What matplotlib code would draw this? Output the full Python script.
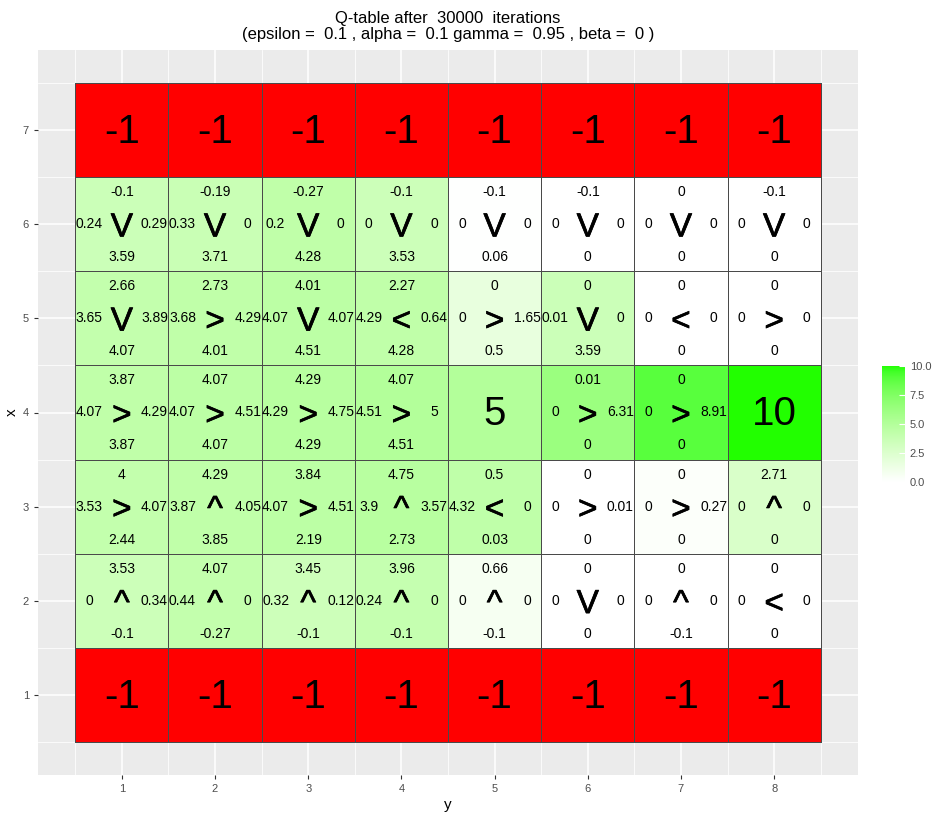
import numpy as np
import matplotlib
matplotlib.use("Agg")
import matplotlib.pyplot as plt
import matplotlib.patheffects as pe
from matplotlib.colors import ListedColormap

plt.rcParams['font.family'] = ['Liberation Sans', 'DejaVu Sans']

n_iter = 30000
epsilon, alpha, gamma, beta = 0.1, 0.1, 0.95, 0

cols = [1, 2, 3, 4, 5, 6, 7, 8]
rows = [1, 2, 3, 4, 5, 6, 7]
nan = np.nan

# terminal rewards (nan = ordinary state), rows from x=1 (bottom) to x=7 (top)
terminal = [
    [-1, -1, -1, -1, -1, -1, -1, -1],
    [nan] * 8,
    [nan] * 8,
    [nan, nan, nan, nan, 5, nan, nan, 10],
    [nan] * 8,
    [nan] * 8,
    [-1, -1, -1, -1, -1, -1, -1, -1],
]

q_up = [
    [nan] * 8,
    [3.53, 4.07, 3.45, 3.96, 0.66, 0, 0, 0],
    [4, 4.29, 3.84, 4.75, 0.5, 0, 0, 2.71],
    [3.87, 4.07, 4.29, 4.07, nan, 0.01, 0, nan],
    [2.66, 2.73, 4.01, 2.27, 0, 0, 0, 0],
    [-0.1, -0.19, -0.27, -0.1, -0.1, -0.1, 0, -0.1],
    [nan] * 8,
]
q_left = [
    [nan] * 8,
    [0, 0.44, 0.32, 0.24, 0, 0, 0, 0],
    [3.53, 3.87, 4.07, 3.9, 4.32, 0, 0, 0],
    [4.07, 4.07, 4.29, 4.51, nan, 0, 0, nan],
    [3.65, 3.68, 4.07, 4.29, 0, 0.01, 0, 0],
    [0.24, 0.33, 0.2, 0, 0, 0, 0, 0],
    [nan] * 8,
]
q_right = [
    [nan] * 8,
    [0.34, 0, 0.12, 0, 0, 0, 0, 0],
    [4.07, 4.05, 4.51, 3.57, 0, 0.01, 0.27, 0],
    [4.29, 4.51, 4.75, 5, nan, 6.31, 8.91, nan],
    [3.89, 4.29, 4.07, 0.64, 1.65, 0, 0, 0],
    [0.29, 0, 0, 0, 0, 0, 0, 0],
    [nan] * 8,
]
q_down = [
    [nan] * 8,
    [-0.1, -0.27, -0.1, -0.1, -0.1, 0, -0.1, 0],
    [2.44, 3.85, 2.19, 2.73, 0.03, 0, 0, 0],
    [3.87, 4.07, 4.29, 4.51, nan, 0, 0, nan],
    [4.07, 4.01, 4.51, 4.28, 0.5, 3.59, 0, 0],
    [3.59, 3.71, 4.28, 3.53, 0.06, 0, 0, 0],
    [nan] * 8,
]
policy = [
    [""] * 8,
    ["^", "^", "^", "^", "^", "V", "^", "<"],
    [">", "^", ">", "^", "<", ">", ">", "^"],
    [">", ">", ">", ">", "", ">", ">", ""],
    ["V", ">", "V", "<", ">", "V", "<", ">"],
    ["V", "V", "V", "V", "V", "V", "V", "V"],
    [""] * 8,
]


# ggplot-like gradient (interpolated in CIELAB)
def to_lab(rgb):
    c = np.asarray(rgb, float)
    lin = np.where(c <= 0.04045, c / 12.92, ((c + 0.055) / 1.055) ** 2.4)
    M = np.array([[0.4124, 0.3576, 0.1805], [0.2126, 0.7152, 0.0722], [0.0193, 0.1192, 0.9505]])
    xyz = M @ lin / np.array([0.95047, 1.0, 1.08883])
    f = np.where(xyz > 0.008856, np.cbrt(xyz), 7.787 * xyz + 16 / 116)
    return np.array([116 * f[1] - 16, 500 * (f[0] - f[1]), 200 * (f[1] - f[2])])


def from_lab(lab):
    L, a, b = lab
    fy = (L + 16) / 116
    f = np.array([fy + a / 500, fy, fy - b / 200])
    xyz = np.where(f ** 3 > 0.008856, f ** 3, (f - 16 / 116) / 7.787) * np.array([0.95047, 1.0, 1.08883])
    Minv = np.array([[3.2406, -1.5372, -0.4986], [-0.9689, 1.8758, 0.0415], [0.0557, -0.2040, 1.0570]])
    lin = Minv @ xyz
    c = np.where(lin <= 0.0031308, 12.92 * lin, 1.055 * np.clip(lin, 0, None) ** (1 / 2.4) - 0.055)
    return np.clip(c, 0, 1)


lo, hi = to_lab([1, 1, 1]), to_lab([0x22 / 255, 1, 0])
cmap = ListedColormap([from_lab(lo + t * (hi - lo)) for t in np.linspace(0, 1, 256)])
cmap.set_under("#FF0000")

term = np.array(terminal, float)
qmax = np.nanmax(np.stack([q_up, q_left, q_right, q_down]), axis=0)
fill = np.where(np.isnan(term), qmax, term)

fig = plt.figure(figsize=(9.49, 8.18), dpi=100)
ax = fig.add_axes([38 / 949, 43 / 818, 820 / 949, 725 / 818])
ax.set_facecolor("#EBEBEB")

xe = np.arange(0.5, len(cols) + 1, 1)
ye = np.arange(0.5, len(rows) + 1, 1)
mesh = ax.pcolormesh(xe, ye, fill, cmap=cmap, vmin=0, vmax=10,
                     edgecolors="#4a4a4a", linewidth=0.6, zorder=2)

thick = [pe.withStroke(linewidth=0.5, foreground="black")]
for i, xr in enumerate(rows):
    for j, yc in enumerate(cols):
        if not np.isnan(term[i, j]):
            ax.text(yc, xr - 0.02, f"{term[i, j]:g}", ha="center", va="center", fontsize=29, zorder=3)
            continue
        ax.text(yc, xr + 0.34, f"{q_up[i][j]:g}", ha="center", va="center", fontsize=10, zorder=3)
        ax.text(yc, xr - 0.35, f"{q_down[i][j]:g}", ha="center", va="center", fontsize=10, zorder=3)
        ax.text(yc - 0.35, xr, f"{q_left[i][j]:g}", ha="center", va="center", fontsize=10, zorder=3)
        ax.text(yc + 0.35, xr, f"{q_right[i][j]:g}", ha="center", va="center", fontsize=10, zorder=3)
        ax.text(yc, xr - 0.04, policy[i][j], ha="center", va="center", fontsize=24,
                path_effects=thick, zorder=3)

ax.set_xlim(0.1, 8.9)
ax.set_ylim(0.15, 7.85)
ax.set_xticks(cols)
ax.set_yticks(rows)
ax.set_xticks(xe, minor=True)
ax.set_yticks(ye, minor=True)
ax.grid(which="major", color="white", linewidth=1.1, zorder=0)
ax.grid(which="minor", color="white", linewidth=0.55, zorder=0)
ax.set_axisbelow(True)
ax.tick_params(which="major", labelsize=8, labelcolor="#4D4D4D", color="#333333", length=3)
ax.tick_params(which="minor", length=0)
for s in ax.spines.values():
    s.set_visible(False)
ax.set_xlabel("y", fontsize=11, labelpad=3)
ax.set_ylabel("x", fontsize=11, labelpad=3)
ax.set_title(f"Q-table after  {n_iter}  iterations\n(epsilon =  {epsilon} , alpha =  {alpha} "
             f"gamma =  {gamma} , beta =  {beta} )", fontsize=12, pad=8, linespacing=1.1)

cax = fig.add_axes([882 / 949, 336 / 818, 23 / 949, 116 / 818])
cb = fig.colorbar(mesh, cax=cax, ticks=[0, 2.5, 5, 7.5, 10], format="%.1f")
cb.outline.set_visible(False)
cax.tick_params(labelsize=8, labelcolor="#4D4D4D", color="white", direction="in", length=4)

fig.savefig("out.png", dpi=100)
